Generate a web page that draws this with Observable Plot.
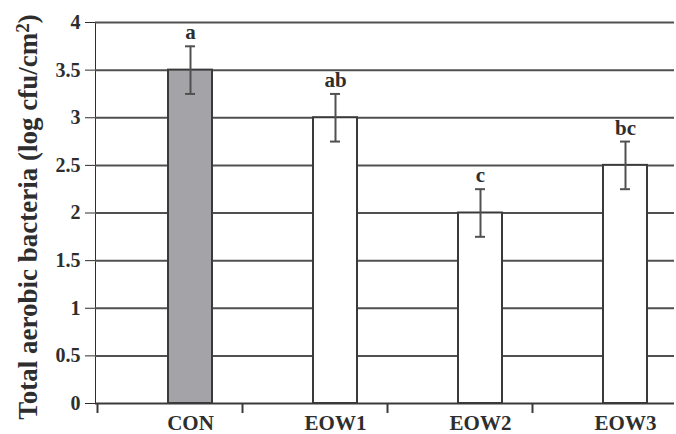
<!DOCTYPE html>
<html>
<head>
<meta charset="utf-8">
<script src="https://cdn.jsdelivr.net/npm/d3@7"></script>
<script src="https://cdn.jsdelivr.net/npm/@observablehq/plot@0.6"></script>
<style>
  html, body { margin: 0; padding: 0; background: #fff; }
  #chart { width: 676px; height: 434px; }
</style>
</head>
<body>
<div id="chart"></div>
<script>
const categories = ["CON", "EOW1", "EOW2", "EOW3"];
const values = [3.5, 3.0, 2.0, 2.5];
const errors = [0.25, 0.25, 0.25, 0.25];
const letters = ["a", "ab", "c", "bc"];
const yTicks = [0, 0.5, 1, 1.5, 2, 2.5, 3, 3.5, 4];
const gridLines = [0.5, 1, 1.5, 2, 2.5, 3, 3.5, 4];
const yTitle = "Total aerobic bacteria (log cfu/cm²)";

const data = categories.map((c, i) => ({cat: c, value: values[i], err: errors[i], letter: letters[i]}));

const ink = "#3a3a3a";
const txt = "#2e2e2e";
const plot = Plot.plot({
  width: 676,
  height: 434,
  marginLeft: 95,
  marginRight: 2,
  marginTop: 22,
  marginBottom: 31,
  style: {fontFamily: "'Liberation Serif', 'Times New Roman', serif", fontSize: "20px", fontWeight: "bold", color: txt, background: "#fff"},
  x: {domain: categories, range: [116, 698], paddingInner: 0.7, paddingOuter: 0.35},
  y: {domain: [0, 4], ticks: yTicks, tickFormat: d => String(d), tickSize: 10, tickPadding: 5, line: true, label: null},
  marks: [
    Plot.axisX({tickSize: 0, tickPadding: 12, fontSize: 21, label: null}),
    Plot.ruleY(gridLines, {stroke: "#505050", strokeWidth: 2}),
    Plot.barY(data.filter(d => d.cat === "CON"), {x: "cat", y: "value", fill: "#a4a4a8", stroke: ink, strokeWidth: 2}),
    Plot.barY(data.filter(d => d.cat !== "CON"), {x: "cat", y: "value", fill: "#fff", stroke: ink, strokeWidth: 2}),
    Plot.ruleX(data, {x: "cat", y1: d => d.value - d.err, y2: d => d.value + d.err, stroke: "#505050", strokeWidth: 2}),
    Plot.tickY(data, {x: "cat", y: d => d.value - d.err, stroke: "#505050", strokeWidth: 2, insetLeft: 17, insetRight: 17}),
    Plot.tickY(data, {x: "cat", y: d => d.value + d.err, stroke: "#505050", strokeWidth: 2, insetLeft: 17, insetRight: 17}),
    Plot.text(data, {x: "cat", y: d => d.value + d.err, text: "letter", dy: -7, lineAnchor: "bottom", fontSize: 21, fontWeight: "bold", fill: txt}),
    Plot.ruleY([0], {stroke: ink, strokeWidth: 2}),
    Plot.ruleX(categories, {x: d => d, y1: 0, y2: 0, dx: -93, insetBottom: -10, stroke: ink, strokeWidth: 2}),
    Plot.text([yTitle], {frameAnchor: "left", textAnchor: "middle", lineAnchor: "middle", rotate: -90, dx: -67, dy: 4, fontSize: 27, fontWeight: "bold", fill: txt})
  ]
});
document.getElementById("chart").appendChild(plot);

// render the "²" as a raised superscript, as in the reference
d3.select(plot).selectAll("text").each(function () {
  const t = this.textContent;
  if (t === yTitle) {
    const sel = d3.select(this);
    sel.text(null);
    sel.append("tspan").text("Total aerobic bacteria (log cfu/cm");
    sel.append("tspan").attr("dy", "-0.45em").attr("font-size", "0.7em").text("2");
    sel.append("tspan").attr("dy", "0.32em").text(")");
  }
});
</script>
</body>
</html>
